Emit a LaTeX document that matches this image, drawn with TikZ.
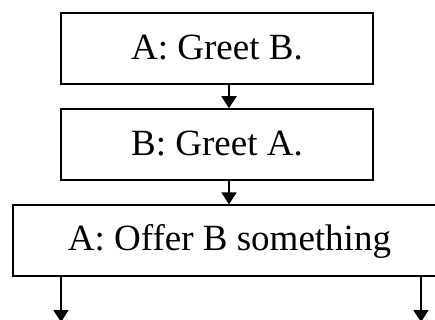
\documentclass[tikz,border=0pt]{standalone}
\usepackage{fontspec}
\setmainfont{Liberation Serif}
\usetikzlibrary{arrows.meta}
\begin{document}
\begin{tikzpicture}[x=1pt,y=-1pt,
  box/.style={draw, line width=1.9pt, inner sep=0pt, minimum height=71pt,
    font=\fontsize{37}{40}\selectfont, text height=23pt},
  arr/.style={line width=1.8pt, -{Triangle[width=15pt,length=12pt]}}]
  \useasboundingbox (0,0) rectangle (435,320);
  \begin{scope}
    \clip (0,0) rectangle (435,320);
    \node[box, minimum width=312pt, text depth=0pt] (b1) at (217,48.5) {A: Greet B.};
    \node[box, minimum width=312pt, text depth=2pt] (b2) at (217,144.7) {B: Greet A.};
    \node[box, minimum width=433pt, text depth=4.6pt] (b3) at (229.5,240.8) {A: Offer B something};
    \coordinate (m2) at ([xshift=12pt]b2.south);
    \coordinate (o1) at (61,322);
    \coordinate (o2) at (421,322);
    \draw[arr] ([xshift=12pt]b1.south) -- ([xshift=12pt]b2.north);
    \draw[arr] (m2) -- (b3.north -| m2);
    \draw[arr] (b3.south -| o1) -- (o1);
    \draw[arr] (b3.south -| o2) -- (o2);
  \end{scope}
\end{tikzpicture}
\end{document}
